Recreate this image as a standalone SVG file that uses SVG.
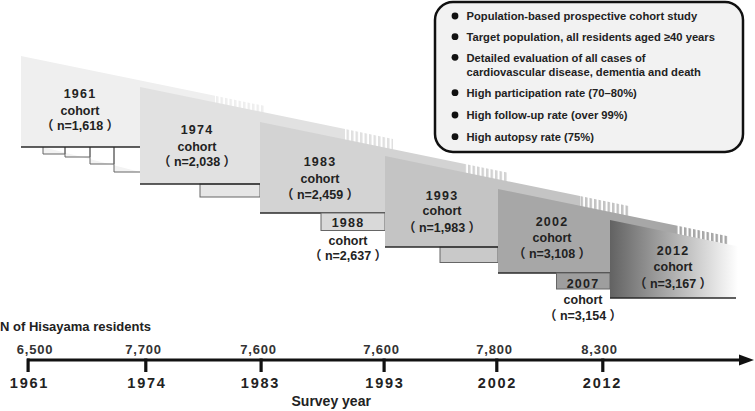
<svg xmlns="http://www.w3.org/2000/svg" width="755" height="411" viewBox="0 0 755 411">
<style>
.lbl{font-family:"Liberation Sans","Noto Sans CJK JP",sans-serif;font-weight:bold;font-size:12.5px;fill:#222;text-anchor:middle}
.yr{letter-spacing:1.2px}
.bline{stroke:#2a2a2a;stroke-width:1.5;fill:none}
.sub{stroke:#666;stroke-width:1}
.info{font-family:"Liberation Sans","DejaVu Sans",sans-serif;font-weight:bold;font-size:11.2px;fill:#222}
.ax{font-family:"Liberation Sans",sans-serif;font-weight:bold;fill:#222}
.pop{font-size:13px;text-anchor:middle;letter-spacing:0.8px;fill:#333}
.year{font-size:14.5px;text-anchor:middle;letter-spacing:1.8px}
</style>
<defs>
<pattern id="st1" width="4.5" height="10" patternUnits="userSpaceOnUse"><rect width="2.5" height="10" fill="#eeeeee"/></pattern>
<pattern id="st2" width="4.5" height="10" patternUnits="userSpaceOnUse"><rect width="2.5" height="10" fill="#e0e0e0"/></pattern>
<pattern id="st3" width="4.5" height="10" patternUnits="userSpaceOnUse"><rect width="2.5" height="10" fill="#d2d2d2"/></pattern>
<pattern id="st4" width="4.5" height="10" patternUnits="userSpaceOnUse"><rect width="2.5" height="10" fill="#c2c2c2"/></pattern>
<pattern id="st5" width="4.5" height="10" patternUnits="userSpaceOnUse"><rect width="2.5" height="10" fill="#a6a6a6"/></pattern>
<linearGradient id="g2012" x1="610" y1="0" x2="738" y2="0" gradientUnits="userSpaceOnUse">
<stop offset="0" stop-color="#626262"/><stop offset="1" stop-color="#ffffff"/>
</linearGradient>
</defs>

<g id="cohort1961">
<polygon points="21,56 215,95.8 215,147 21,147" fill="#efefef"/>
<polygon points="215,95.8 264,105.8 264,147 215,147" fill="url(#st1)"/>
<polyline class="sub" points="43,147 43,154 65,154 65,147 65,157 90,157 90,147 90,164 114,164 114,147 114,172 140,172" fill="#f3f3f3"/>
<line class="bline" x1="21" y1="147" x2="140" y2="147"/>
<text class="lbl yr" x="80" y="98">1961</text>
<text class="lbl" x="80" y="114.5">cohort</text>
<text class="lbl" x="80" y="130">（<tspan dx="3.5">n=1,618</tspan><tspan dx="3.5">）</tspan></text>
</g>

<g id="cohort1974">
<polygon points="140,87 345,129 345,184 140,184" fill="#e1e1e1"/>
<polygon points="345,129 393,138.9 393,184 345,184" fill="url(#st2)"/>
<rect class="sub" x="200" y="184" width="60" height="13" fill="#e6e6e6"/>
<line class="bline" x1="140" y1="184" x2="260" y2="184"/>
<text class="lbl yr" x="197" y="134">1974</text>
<text class="lbl" x="197" y="150.5">cohort</text>
<text class="lbl" x="197" y="166">（<tspan dx="3.5">n=2,038</tspan><tspan dx="3.5">）</tspan></text>
</g>

<g id="cohort1983">
<polygon points="260,122 465,164 465,213 260,213" fill="#d3d3d3"/>
<polygon points="465,164 507,172.6 507,213 465,213" fill="url(#st3)"/>
<line class="bline" x1="260" y1="213" x2="385" y2="213"/>
<text class="lbl yr" x="320" y="166">1983</text>
<text class="lbl" x="320" y="183">cohort</text>
<text class="lbl" x="320" y="199">（<tspan dx="3.5">n=2,459</tspan><tspan dx="3.5">）</tspan></text>
</g>

<g id="cohort1988">
<rect class="sub" x="321" y="213" width="64" height="17.5" fill="#d9d9d9"/>
<text class="lbl yr" x="348" y="227">1988</text>
<text class="lbl" x="348" y="245">cohort</text>
<text class="lbl" x="348" y="260">（<tspan dx="3.5">n=2,637</tspan><tspan dx="3.5">）</tspan></text>
</g>

<g id="cohort1993">
<polygon points="385,156 580,196 580,247 385,247" fill="#c4c4c4"/>
<polygon points="580,196 630,206.2 630,247 580,247" fill="url(#st4)"/>
<rect class="sub" x="440" y="247" width="58" height="15.5" fill="#c9c9c9"/>
<line class="bline" x1="385" y1="247" x2="498" y2="247"/>
<text class="lbl yr" x="442" y="199.5">1993</text>
<text class="lbl" x="442" y="215">cohort</text>
<text class="lbl" x="442" y="232">（<tspan dx="3.5">n=1,983</tspan><tspan dx="3.5">）</tspan></text>
</g>

<g id="cohort2002">
<polygon points="498,189 675,225.3 675,273 498,273" fill="#a7a7a7"/>
<polygon points="675,225.3 728,236.2 728,273 675,273" fill="url(#st5)"/>
<line class="bline" x1="498" y1="273" x2="610" y2="273"/>
<text class="lbl yr" x="552" y="225.5">2002</text>
<text class="lbl" x="552" y="242">cohort</text>
<text class="lbl" x="552" y="258">（<tspan dx="3.5">n=3,108</tspan><tspan dx="3.5">）</tspan></text>
</g>

<g id="cohort2007">
<rect class="sub" x="556.5" y="273" width="53.5" height="16" fill="#9e9e9e"/>
<text class="lbl yr" x="583" y="287.5">2007</text>
<text class="lbl" x="583" y="304">cohort</text>
<text class="lbl" x="583" y="320">（<tspan dx="3.5">n=3,154</tspan><tspan dx="3.5">）</tspan></text>
</g>

<g id="cohort2012">
<polygon points="610,220 740,246.7 740,298 610,298" fill="url(#g2012)"/>
<line class="bline" x1="610" y1="298" x2="736" y2="298"/>
<text class="lbl yr" x="673" y="254.5">2012</text>
<text class="lbl" x="673" y="271">cohort</text>
<text class="lbl" x="673" y="288">（<tspan dx="3.5">n=3,167</tspan><tspan dx="3.5">）</tspan></text>
</g>

<g id="features">
<rect x="435" y="2" width="308" height="150" rx="18" ry="18" fill="#f2f2f2" stroke="#111" stroke-width="2.5"/>
<g fill="#111">
<circle cx="455" cy="16" r="3.4"/>
<circle cx="455" cy="36.7" r="3.4"/>
<circle cx="455" cy="57.3" r="3.4"/>
<circle cx="455" cy="92.7" r="3.4"/>
<circle cx="455" cy="115" r="3.4"/>
<circle cx="455" cy="136.7" r="3.4"/>
</g>
<text class="info" x="466.5" y="20">Population-based prospective cohort study</text>
<text class="info" x="466.5" y="40.8">Target population, all residents aged ≥40 years</text>
<text class="info" x="466.5" y="61.5">Detailed evaluation of all cases of</text>
<text class="info" x="466.5" y="75.8">cardiovascular disease, dementia and death</text>
<text class="info" x="466.5" y="96.8">High participation rate (70–80%)</text>
<text class="info" x="466.5" y="119">High follow-up rate (over 99%)</text>
<text class="info" x="466.5" y="140.8">High autopsy rate (75%)</text>
</g>

<g id="connectors">
<line x1="27" y1="360" x2="742" y2="360" stroke="#111" stroke-width="3"/>
<polygon points="739,354.5 754,360 739,365.5" fill="#111"/>
<g fill="#111">
<rect x="26.5" y="358.5" width="3.2" height="13.5"/>
<rect x="144.2" y="358.5" width="3.2" height="13.5"/>
<rect x="259.5" y="358.5" width="3.2" height="13.5"/>
<rect x="382.5" y="358.5" width="3.2" height="13.5"/>
<rect x="495.2" y="358.5" width="3.2" height="13.5"/>
<rect x="601.2" y="358.5" width="3.2" height="13.5"/>
</g>
</g>

<g id="axis-labels">
<text class="ax" x="0" y="331" font-size="13" fill="#333">N of Hisayama residents</text>
<text class="ax pop" x="35" y="354">6,500</text>
<text class="ax pop" x="143.5" y="354">7,700</text>
<text class="ax pop" x="258.5" y="354">7,600</text>
<text class="ax pop" x="381.5" y="354">7,600</text>
<text class="ax pop" x="494.5" y="354">7,800</text>
<text class="ax pop" x="599.5" y="354">8,300</text>
<text class="ax year" x="29.5" y="388">1961</text>
<text class="ax year" x="147" y="388">1974</text>
<text class="ax year" x="260.5" y="388">1983</text>
<text class="ax year" x="385" y="388">1993</text>
<text class="ax year" x="497.5" y="388">2002</text>
<text class="ax year" x="602.5" y="388">2012</text>
<text class="ax" x="291.5" y="406" font-size="14">Survey year</text>
</g>
</svg>
